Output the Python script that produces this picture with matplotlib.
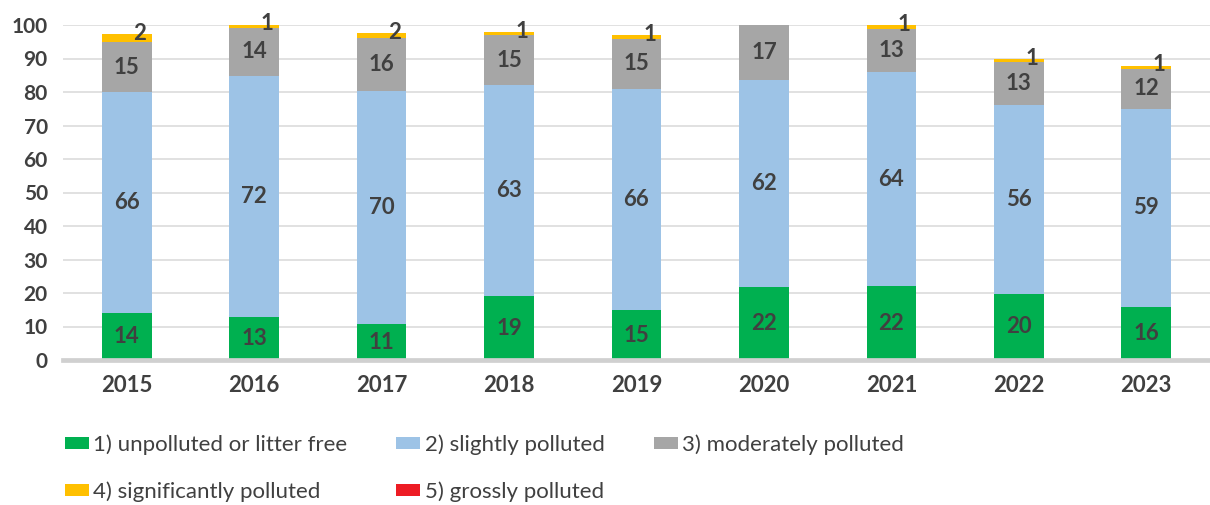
import numpy as np
import matplotlib
matplotlib.use('Agg')
import matplotlib.pyplot as plt

# years and shares per litter class
years = ['2015', '2016', '2017', '2018', '2019', '2020', '2021', '2022', '2023']
green = [14, 12.8, 10.6, 19, 14.9, 21.9, 22, 19.8, 15.9]
blue = [66, 72.1, 69.6, 63.1, 66, 61.6, 64, 56.2, 59.1]
gray = [14.9, 14.1, 15.8, 14.9, 15, 16.6, 12.9, 12.9, 11.9]
yellow = [2.3, 1.1, 1.6, 0.9, 1.1, 0, 1, 0.9, 0.9]
red = [0, 0, 0, 0, 0, 0, 0, 0, 0]
labels = ['1) unpolluted or litter free', '2) slightly polluted', '3) moderately polluted',
          '4) significantly polluted', '5) grossly polluted']
colors = ['#00B050', '#9DC3E6', '#A6A6A6', '#FFC000', '#ED1C24']
yticks = [0, 10, 20, 30, 40, 50, 60, 70, 80, 90, 100]

plt.rcParams['font.family'] = ['Lato', 'DejaVu Sans']
txt = '#404040'

fig = plt.figure(figsize=(12.1, 5.05), dpi=100)
ax = fig.add_axes([63/1210, 145/505, 1147/1210, 335/505])

x = np.arange(len(years))
w = 0.39
series = [green, blue, gray, yellow, red]
bottom = np.zeros(len(years))
handles = []
for k, vals in enumerate(series):
    vals = np.array(vals, dtype=float)
    b = ax.bar(x, vals, w, bottom=bottom, color=colors[k], label=labels[k], zorder=3, clip_on=False)
    handles.append(b)
    for i in range(len(years)):
        if vals[i] <= 0:
            continue
        if k < 3:
            ax.text(x[i], bottom[i] + vals[i] / 2, '%.0f' % vals[i], ha='center', va='center',
                    fontsize=16, fontweight='bold', color=txt, zorder=4)
        elif k == 3:
            ax.annotate('%.0f' % vals[i], (x[i], bottom[i] + vals[i]), xytext=(13, 1),
                        textcoords='offset pixels', ha='center', va='center',
                        fontsize=16, fontweight='bold', color=txt, zorder=4, annotation_clip=False)
    bottom += vals

ax.set_xlim(-0.5, len(years) - 0.5)
ax.set_ylim(0, 100)
ax.set_yticks(yticks)
ax.set_xticks(x)
ax.set_xticklabels(years)
ax.grid(axis='y', color='#D9D9D9', linewidth=1.1, zorder=0)
for s in ['top', 'right', 'left']:
    ax.spines[s].set_visible(False)
ax.spines['bottom'].set_color('#D0D0D0')
ax.spines['bottom'].set_linewidth(3.4)
ax.spines['bottom'].set_zorder(5)
ax.tick_params(axis='both', length=0, labelcolor=txt)
ax.tick_params(axis='x', pad=11, labelsize=16)
ax.tick_params(axis='y', pad=11, labelsize=15)
for t in ax.get_xticklabels() + ax.get_yticklabels():
    t.set_fontweight('bold')

# legend filled row by row: 1 2 3 / 4 5
order = [0, 3, 1, 4, 2]
fig.legend(handles=[handles[j] for j in order], labels=[labels[j] for j in order], ncol=3,
           loc='upper left', bbox_to_anchor=(65/1210, 1 - 434/505), frameon=False, fontsize=16,
           handlelength=1.08, handleheight=0.45, handletextpad=0.2, columnspacing=2.2,
           labelspacing=1.2, borderpad=0, borderaxespad=0, labelcolor=txt)

fig.savefig('out.png', dpi=100)
